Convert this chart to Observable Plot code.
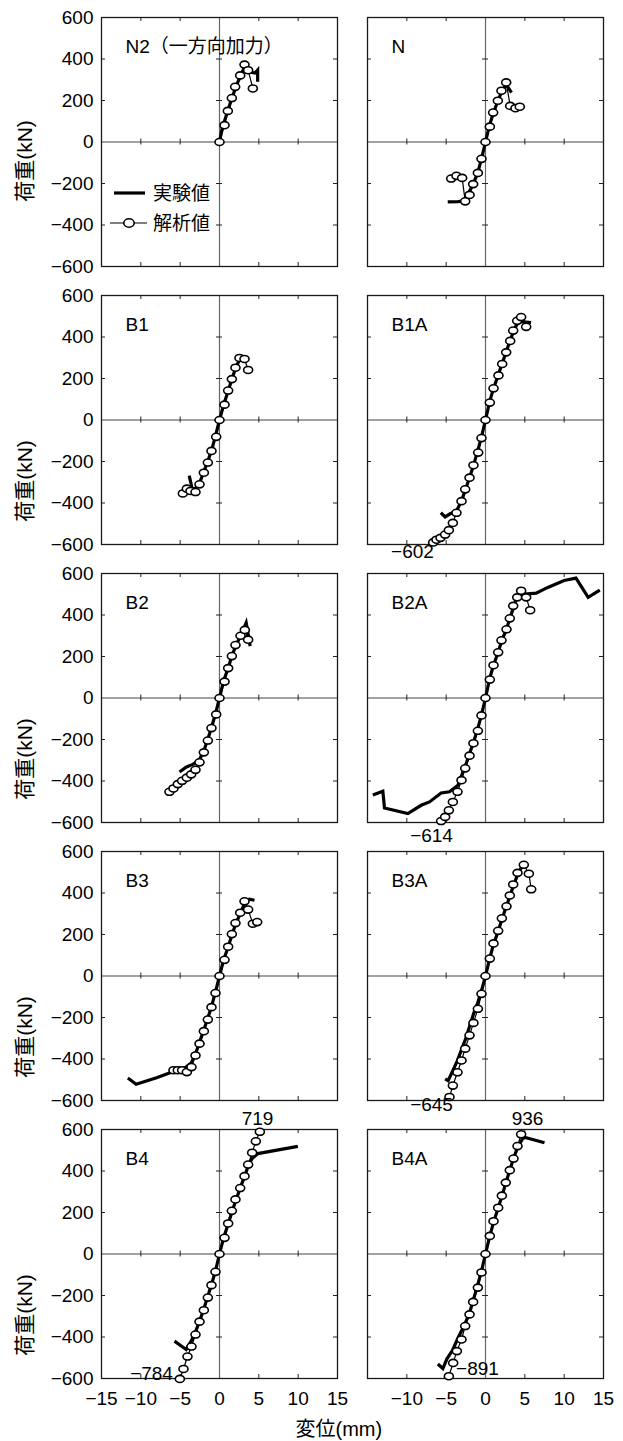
<!DOCTYPE html>
<html>
<head>
<meta charset="utf-8">
<script src="https://cdn.jsdelivr.net/npm/d3@7"></script>
<script src="https://cdn.jsdelivr.net/npm/@observablehq/plot@0.6"></script>
<style>
  html, body { margin: 0; padding: 0; background: #fff; }
  #root { position: relative; width: 623px; height: 1441px; overflow: hidden;
          font-family: "Liberation Sans", "Noto Sans CJK JP", sans-serif; color: #000; }
  .panel { position: absolute; }
  .panel svg { overflow: visible; }
  #xlabel { position: absolute; font-size: 20px; line-height: 20px; white-space: nowrap; }
  #legend { position: absolute; overflow: visible; }
</style>
</head>
<body>
<div id="root"></div>
<script>
// ---------------- data ----------------
const panelNames = ["N2（一方向加力）", "N", "B1", "B1A", "B2", "B2A", "B3", "B3A", "B4", "B4A"];
const xTicks = [-15, -10, -5, 0, 5, 10, 15];
const yTicks = [-600, -400, -200, 0, 200, 400, 600];
const xTitle = "変位(mm)";
const yTitle = "荷重(kN)";
const legendLabels = ["実験値", "解析値"];

// experimental curves [displacement mm, load kN]
const N2_exp = [[0,0],[0.3,60],[0.8,120],[1.3,180],[1.8,235],[2.4,295],[3.0,345],[3.3,360],[3.7,338],[4.5,332],[4.85,347],[4.85,290]];
const N_exp = [[-4.8,-289],[-3.5,-287],[-2.6,-283],[-2.2,-250],[-1.6,-205],[-1.0,-150],[-0.5,-80],[0,0],[0.5,80],[1.0,140],[1.6,200],[2.1,248],[2.6,275],[2.9,262],[3.3,238]];
const B1_exp = [[-3.85,-268],[-3.45,-335],[-3.0,-328],[-2.5,-300],[-2.0,-250],[-1.5,-200],[-1.0,-145],[-0.5,-75],[0,0],[0.5,70],[1.1,140],[1.6,200],[2.1,255],[2.6,295],[3.2,305]];
const B1A_exp = [[-5.68,-447],[-5.13,-467],[-4.5,-452],[-3.7,-440],[-3.0,-385],[-2.5,-330],[-2.0,-275],[-1.5,-215],[-1.0,-150],[-0.5,-80],[0,0],[0.5,85],[1.0,150],[1.6,215],[2.1,270],[2.6,325],[3.1,380],[3.6,430],[4.1,468],[4.6,474],[5.8,470]];
const B2_exp = [[-5.08,-357],[-4.2,-332],[-3.39,-320],[-2.6,-300],[-2.0,-255],[-1.5,-200],[-1.0,-140],[-0.5,-75],[0,0],[0.5,80],[1.1,145],[1.6,205],[2.1,255],[2.7,300],[3.39,363],[3.9,250]];
const B2A_exp = [[-14.32,-468],[-13.05,-449],[-12.84,-530],[-9.87,-557],[-8.18,-517],[-7.12,-501],[-5.64,-458],[-4.58,-452],[-3.5,-420],[-3.0,-370],[-2.5,-320],[-2.0,-265],[-1.5,-210],[-1.0,-150],[-0.5,-80],[0,0],[0.5,90],[1.0,155],[1.6,220],[2.1,280],[2.7,335],[3.1,385],[3.6,440],[4.03,495],[4.96,501],[6.44,505],[7.92,533],[10.0,566],[11.5,578],[13.05,485],[14.53,520]];
const B3_exp = [[-11.65,-492],[-10.6,-522],[-8.0,-490],[-5.5,-455],[-4.3,-440],[-3.6,-420],[-3.0,-370],[-2.5,-315],[-2.0,-260],[-1.5,-205],[-1.0,-145],[-0.5,-75],[0,0],[0.5,75],[1.1,140],[1.6,200],[2.1,255],[2.7,305],[3.3,360],[3.8,370],[4.45,365]];
const B3A_exp = [[-5.13,-496],[-4.75,-505],[-4.2,-460],[-3.6,-410],[-3.0,-350],[-2.5,-300],[-2.0,-240],[-1.5,-180],[-1.0,-130],[-0.5,-70],[0,0],[0.5,80],[1.0,150],[1.6,215],[2.1,275],[2.6,330],[3.1,385],[3.6,440],[4.1,490],[4.6,525]];
const B4_exp = [[-5.72,-420],[-4.24,-460],[-3.6,-420],[-3.0,-370],[-2.5,-320],[-2.0,-265],[-1.5,-205],[-1.0,-145],[-0.5,-80],[0,0],[0.5,75],[1.1,145],[1.6,205],[2.1,260],[2.6,315],[3.2,375],[3.7,430],[4.15,460],[4.87,484],[9.96,519]];
const B4A_exp = [[-6.06,-530],[-5.42,-552],[-4.9,-505],[-4.2,-465],[-3.5,-405],[-2.7,-345],[-2.0,-280],[-1.5,-215],[-1.0,-150],[-0.5,-80],[0,0],[0.5,80],[1.0,150],[1.6,220],[2.1,280],[2.6,345],[3.1,405],[3.6,465],[4.1,515],[4.7,555],[5.04,562],[7.5,536]];

// analysis results [displacement mm, load kN]
const N2_ana = [[0,0],[0.64,81],[1.06,150],[1.57,212],[1.99,266],[2.63,321],[3.18,373],[3.64,346],[4.24,258]];
const N_ana = [[-4.36,-176],[-3.69,-163],[-2.97,-173],[-2.58,-286],[-2.03,-255],[-1.57,-203],[-0.97,-149],[-0.51,-81],[0,0],[0.55,74],[0.97,142],[1.57,199],[2.03,247],[2.63,287],[3.14,174],[3.81,163],[4.36,170]];
const B1_ana = [[-4.66,-354],[-4.15,-331],[-3.69,-342],[-3.05,-347],[-2.54,-310],[-1.99,-254],[-1.48,-205],[-1.02,-149],[-0.42,-81],[0,0],[0.64,74],[1.10,142],[1.57,197],[2.03,252],[2.54,299],[3.18,294],[3.64,241]];
const B1A_ana = [[-6.65,-590],[-6.23,-577],[-5.72,-568],[-5.13,-552],[-4.66,-531],[-4.15,-496],[-3.69,-447],[-3.05,-391],[-2.58,-334],[-2.03,-278],[-1.53,-218],[-0.93,-157],[-0.51,-87],[0,0],[0.55,84],[1.02,153],[1.65,215],[2.12,270],[2.63,326],[3.14,381],[3.52,431],[4.03,478],[4.53,496],[5.17,449]];
const B2_ana = [[-6.36,-452],[-5.85,-436],[-5.30,-415],[-4.75,-399],[-4.15,-384],[-3.60,-368],[-3.05,-346],[-2.54,-310],[-1.99,-262],[-1.48,-205],[-1.02,-145],[-0.42,-79],[0,0],[0.64,79],[1.10,144],[1.57,202],[2.03,255],[2.67,300],[3.22,328],[3.64,281]];
const B2A_ana = [[-5.64,-593],[-5.13,-573],[-4.66,-541],[-4.15,-501],[-3.56,-452],[-3.05,-396],[-2.58,-339],[-2.03,-278],[-1.53,-218],[-0.97,-158],[-0.51,-84],[0,0],[0.55,89],[1.02,158],[1.61,220],[2.03,278],[2.67,331],[3.09,384],[3.52,444],[4.03,485],[4.53,517],[5.17,485],[5.68,423]];
const B3_ana = [[-5.85,-454],[-5.30,-454],[-4.75,-454],[-4.15,-463],[-3.56,-439],[-3.05,-383],[-2.54,-326],[-1.99,-266],[-1.48,-210],[-1.02,-150],[-0.51,-82],[0,0],[0.64,78],[1.10,141],[1.57,202],[2.03,255],[2.63,305],[3.18,360],[3.64,320],[4.24,252],[4.79,260]];
const B3A_ana = [[-4.58,-583],[-4.15,-528],[-3.56,-464],[-3.05,-407],[-2.58,-350],[-2.03,-286],[-1.53,-226],[-0.97,-158],[-0.51,-86],[0,0],[0.55,84],[1.02,157],[1.61,218],[2.08,278],[2.67,336],[3.09,388],[3.52,441],[4.07,497],[4.87,536],[5.51,493],[5.81,418]];
const B4_ana = [[-5.04,-602],[-4.58,-554],[-4.07,-494],[-3.56,-446],[-3.05,-388],[-2.54,-326],[-1.99,-271],[-1.48,-210],[-1.02,-150],[-0.51,-86],[0,0],[0.64,78],[1.10,147],[1.57,208],[2.03,263],[2.63,318],[3.18,375],[3.64,431],[4.15,488],[4.62,543],[5.13,589]];
const B4A_ana = [[-4.66,-589],[-4.11,-525],[-3.64,-468],[-3.05,-412],[-2.58,-347],[-2.03,-291],[-1.57,-231],[-0.97,-162],[-0.51,-89],[0,0],[0.55,87],[1.02,158],[1.61,223],[2.08,281],[2.58,344],[3.09,404],[3.56,460],[4.07,520],[4.53,577]];

// peak values of the analysis that fall outside the axis range
const peakPanels = ["B1A", "B2A", "B3A", "B4", "B4", "B4A", "B4A"];
const peakTexts  = ["−602", "−614", "−645", "719", "−784", "936", "−891"];

const expData = [N2_exp, N_exp, B1_exp, B1A_exp, B2_exp, B2A_exp, B3_exp, B3A_exp, B4_exp, B4A_exp];
const anaData = [N2_ana, N_ana, B1_ana, B1A_ana, B2_ana, B2A_ana, B3_ana, B3A_ana, B4_ana, B4A_ana];

// ---------------- layout ----------------
const FONT = '"Liberation Sans", "Noto Sans CJK JP", sans-serif';
const PW = 236, PH = 249;
const colLeft = [101, 367];
const rowTop = [17, 295, 573, 851, 1129];
// label anchor positions (data units) for peak texts, in the same order as peakTexts
const peakPos = [[-9.28,-638],[-6.86,-663],[-6.86,-619],[4.83,653],[-8.64,-576],[5.34,653],[-1.02,-552]];
// y-title vertical offsets (px from panel middle) per row
const yTitleDy = [19, 61, 61, 61, 61];

const ellipse = {
  draw(ctx, size) {
    const r = Math.sqrt(size / Math.PI);
    const rx = r * 1.1, ry = r * 0.86, k = 0.5523;
    ctx.moveTo(rx, 0);
    ctx.bezierCurveTo(rx, ry * k, rx * k, ry, 0, ry);
    ctx.bezierCurveTo(-rx * k, ry, -rx, ry * k, -rx, 0);
    ctx.bezierCurveTo(-rx, -ry * k, -rx * k, -ry, 0, -ry);
    ctx.bezierCurveTo(rx * k, -ry, rx, -ry * k, rx, 0);
    ctx.closePath();
  }
};

const root = document.getElementById("root");
const xd = [xTicks[0], xTicks[xTicks.length - 1]];
const yd = [yTicks[0], yTicks[yTicks.length - 1]];
const kx = (xd[1] - xd[0]) / PW;  // data units per px
const ky = (yd[1] - yd[0]) / PH;
const T = 4;   // inward tick length px
const Z = 3;   // half length of ticks on zero lines
const innerX = xTicks.filter(v => v !== 0 && v > xd[0] && v < xd[1]);
const innerY = yTicks.filter(v => v !== 0 && v > yd[0] && v < yd[1]);

panelNames.forEach((name, i) => {
  const col = i % 2, row = Math.floor(i / 2);
  const ml = col === 0 ? 101 : 20, mr = 20, mt = 20, mb = row === 4 ? 62 : 20;
  const key = name.replace(/（.*$/, "");
  const labelIdx = peakPanels.map((p, j) => p === key ? j : -1).filter(j => j >= 0);
  const peaks = labelIdx.map(j => ({x: peakPos[j][0], y: peakPos[j][1], t: peakTexts[j]}));
  const tickStyle = {stroke: "#222", strokeWidth: 1};
  const marks = [
    Plot.ruleX([0], {stroke: "#666", strokeWidth: 1.2}),
    Plot.ruleY([0], {stroke: "#444", strokeWidth: 1.1}),
    // inward ticks on the frame
    Plot.ruleX(innerX, {x: d => d, y1: () => yd[1], y2: () => yd[1] - T * ky, ...tickStyle}),
    Plot.ruleX(innerX, {x: d => d, y1: () => yd[0], y2: () => yd[0] + T * ky, ...tickStyle}),
    Plot.ruleY(innerY, {y: d => d, x1: () => xd[0], x2: () => xd[0] + T * kx, ...tickStyle}),
    Plot.ruleY(innerY, {y: d => d, x1: () => xd[1] - T * kx, x2: () => xd[1], ...tickStyle}),
    // ticks crossing the zero lines
    Plot.ruleX(innerX, {x: d => d, y1: () => -Z * ky, y2: () => Z * ky, ...tickStyle}),
    Plot.ruleY(innerY, {y: d => d, x1: () => -Z * kx, x2: () => Z * kx, ...tickStyle}),
    Plot.frame({stroke: "#1a1a1a", strokeWidth: 1.3}),
    // experiment
    Plot.line(expData[i], {x: d => d[0], y: d => d[1], stroke: "black", strokeWidth: 3.2,
      strokeLinejoin: "miter", strokeMiterlimit: 4, strokeLinecap: "butt"}),
    // analysis
    Plot.line(anaData[i], {x: d => d[0], y: d => d[1], stroke: "black", strokeWidth: 1.2}),
    Plot.dot(anaData[i], {x: d => d[0], y: d => d[1], r: 4.1, symbol: ellipse,
      fill: "white", stroke: "black", strokeWidth: 1.6}),
    // panel name
    Plot.text([name], {frameAnchor: "top-left", dx: 24, dy: 22, textAnchor: "start",
      lineAnchor: "top", fontSize: 19, fill: "black"}),
    Plot.text(peaks, {x: "x", y: "y", text: "t", fontSize: 19, fill: "black",
      textAnchor: "middle", lineAnchor: "middle"})
  ];
  if (col === 0) {
    marks.push(Plot.text([yTitle], {frameAnchor: "left", dx: -76, dy: yTitleDy[row], rotate: -90,
      textAnchor: "middle", lineAnchor: "middle", fontSize: 21, fill: "black"}));
  }
  const svg = Plot.plot({
    width: ml + PW + mr, height: mt + PH + mb,
    marginLeft: ml, marginRight: mr, marginTop: mt, marginBottom: mb,
    style: {background: "transparent", overflow: "visible", fontFamily: FONT, fontSize: "19px", color: "black"},
    x: {domain: xd, axis: row === 4 ? "bottom" : null,
        ticks: col === 0 ? xTicks : xTicks.slice(1), tickSize: 0, tickPadding: 13, label: null},
    y: {domain: yd, axis: col === 0 ? "left" : null,
        ticks: yTicks, tickSize: 0, tickPadding: 8, label: null},
    marks
  });
  const div = document.createElement("div");
  div.className = "panel";
  div.style.left = (colLeft[col] - ml) + "px";
  div.style.top = (rowTop[row] - mt) + "px";
  div.appendChild(svg);
  root.appendChild(div);
});

// x title
const xl = document.createElement("div");
xl.id = "xlabel";
xl.textContent = xTitle;
root.appendChild(xl);
xl.style.left = (339 - xl.offsetWidth / 2) + "px";
xl.style.top = "1419px";

// legend (inside the first panel)
const lg = d3.select(root).append("svg").attr("id", "legend")
  .attr("width", 120).attr("height", 60)
  .style("left", "105px").style("top", "178px")
  .style("font-family", FONT).style("font-size", "19px");
lg.append("line").attr("x1", 9).attr("x2", 40).attr("y1", 15).attr("y2", 15)
  .attr("stroke", "black").attr("stroke-width", 3.2);
lg.append("text").attr("x", 48).attr("y", 15).attr("dy", "0.35em").text(legendLabels[0]);
lg.append("line").attr("x1", 5).attr("x2", 42).attr("y1", 45).attr("y2", 45)
  .attr("stroke", "black").attr("stroke-width", 1.2);
lg.append("ellipse").attr("cx", 24).attr("cy", 45).attr("rx", 5.2).attr("ry", 4.2)
  .attr("fill", "white").attr("stroke", "black").attr("stroke-width", 1.6);
lg.append("text").attr("x", 48).attr("y", 45).attr("dy", "0.35em").text(legendLabels[1]);
</script>
</body>
</html>
